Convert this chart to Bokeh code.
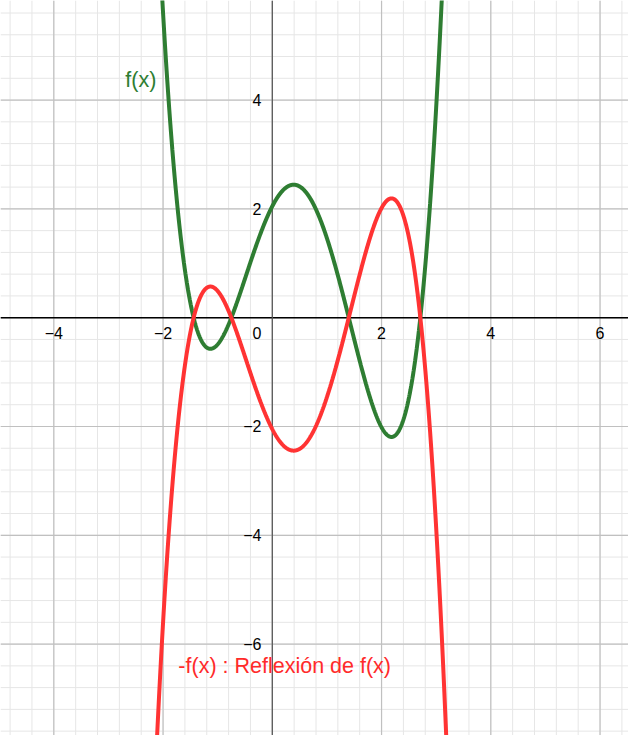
import numpy as np
from bokeh.plotting import figure
from bokeh.models import Range1d
from bokeh.core.properties import value
from bokeh.embed import file_html
from bokeh.resources import INLINE

# f(x) is a quartic given by its real roots and leading coefficient
roots = [-1.44, -0.75, 1.40, 2.71]
lead = 0.5

# tick labels on each axis
x_ticks = [-4, -2, 2, 4, 6]
x_tick_labels = ["−4", "−2", "2", "4", "6"]
y_ticks = [-6, -4, -2, 2, 4]
y_tick_labels = ["−6", "−4", "−2", "2", "4"]

x_lo, x_hi = -4.976, 6.521
y_lo, y_hi = -7.68, 5.83

p = figure(width=628, height=735, output_backend="svg", toolbar_location=None,
           x_range=Range1d(x_lo, x_hi), y_range=Range1d(y_lo, y_hi),
           min_border=0)
p.xaxis.visible = False
p.yaxis.visible = False
p.xgrid.visible = False
p.ygrid.visible = False
p.outline_line_color = None
p.background_fill_color = "white"

# minor grid every 0.4, major every 2
minor_x = np.arange(-6.0, 8.0, 0.4)
minor_y = np.arange(-8.0, 6.4, 0.4)
p.segment(x0=minor_x, y0=y_lo, x1=minor_x, y1=y_hi, line_color="#e6e6e6", line_width=1)
p.segment(x0=x_lo, y0=minor_y, x1=x_hi, y1=minor_y, line_color="#e6e6e6", line_width=1)
major_x = np.arange(-6, 8, 2)
major_y = np.arange(-8, 8, 2)
p.segment(x0=major_x, y0=y_lo, x1=major_x, y1=y_hi, line_color="#c0c0c0", line_width=1.2)
p.segment(x0=x_lo, y0=major_y, x1=x_hi, y1=major_y, line_color="#c0c0c0", line_width=1.2)

# axes
p.segment(x0=[x_lo], y0=[0], x1=[x_hi], y1=[0], line_color="black", line_width=1.5)
p.segment(x0=[0], y0=[y_lo], x1=[0], y1=[y_hi], line_color="#555555", line_width=1.2)

tick_font = "Liberation Sans"
p.text(x=x_ticks, y=[-0.17] * len(x_ticks), text=x_tick_labels,
       text_align="center", text_baseline="top",
       text_font=value(tick_font), text_font_size=value("16px"), text_color="black")
p.text(x=[-0.2], y=[-0.17], text=["0"], text_align="right", text_baseline="top",
       text_font=value(tick_font), text_font_size=value("16px"), text_color="black")
p.text(x=[-0.2] * len(y_ticks), y=y_ticks, text=y_tick_labels,
       text_align="right", text_baseline="middle",
       text_font=value(tick_font), text_font_size=value("16px"), text_color="black")

# curves
xs = np.linspace(-2.4, 3.6, 1200)
fx = lead * np.prod([xs - r for r in roots], axis=0)
p.line(xs, fx, line_color="#2e7d32", line_width=4)
p.line(xs, -fx, line_color="#ff3333", line_width=4)

p.text(x=[-2.69], y=[4.36], text=["f(x)"], text_align="left", text_baseline="middle",
       text_font=value(tick_font), text_font_size=value("21.5px"), text_color="#2e7d32")
p.text(x=[-1.72], y=[-6.41], text=["-f(x) : Reflexión de f(x)"], text_align="left",
       text_baseline="middle", text_font=value(tick_font), text_font_size=value("21.5px"),
       text_color="#ff2a2a")

open("out.html", "w").write(file_html(p, INLINE))
